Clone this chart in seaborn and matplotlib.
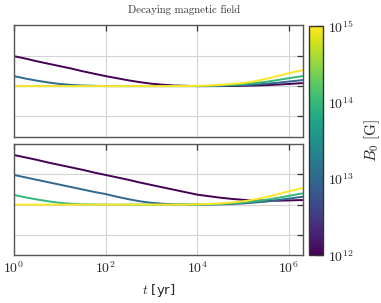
import numpy as np
import pandas as pd
import matplotlib
matplotlib.use("Agg")
import matplotlib.pyplot as plt
from matplotlib.colors import LogNorm
from matplotlib.ticker import FuncFormatter, NullLocator, LogLocator
import seaborn as sns

# log10(t / yr) at which the curves were read
log_t = [0, 0.25, 0.5, 0.75, 1, 1.25, 1.5, 1.75, 2, 2.25, 2.5, 2.75, 3, 3.25,
         3.5, 3.75, 4, 4.25, 4.5, 4.75, 5, 5.25, 5.5, 5.75, 6, 6.25, 6.3]

# initial field strengths (G), one curve per value
b0_values = [1e12, 1e13, 1e14, 1e15]

# upper panel
top_b12 = [0.99, 0.91, 0.82, 0.74, 0.66, 0.58, 0.49, 0.41, 0.33, 0.26, 0.19, 0.13, 0.08, 0.045,
           0.02, 0.01, 0.0, 0.0, 0.0, 0.005, 0.01, 0.02, 0.03, 0.05, 0.07, 0.095, 0.10]
top_b13 = [0.33, 0.25, 0.18, 0.12, 0.07, 0.04, 0.02, 0.01, 0.0, 0.0, 0.0, 0.0, 0.0, 0.0,
           0.0, 0.0, 0.0, 0.0, 0.01, 0.02, 0.03, 0.05, 0.08, 0.11, 0.15, 0.19, 0.20]
top_b14 = [0.0, 0.0, 0.0, 0.0, 0.0, 0.0, 0.0, 0.0, 0.0, 0.0, 0.0, 0.0, 0.0, 0.0,
           0.0, 0.0, 0.0, 0.005, 0.02, 0.04, 0.06, 0.10, 0.14, 0.20, 0.26, 0.32, 0.33]
top_b15 = [0.0, 0.0, 0.0, 0.0, 0.0, 0.0, 0.0, 0.0, 0.0, 0.0, 0.0, 0.0, 0.0, 0.0,
           0.0, 0.0, 0.01, 0.02, 0.04, 0.07, 0.10, 0.16, 0.24, 0.33, 0.43, 0.51, 0.53]

# lower panel
bot_b12 = [1.64, 1.56, 1.48, 1.39, 1.31, 1.23, 1.15, 1.06, 0.98, 0.90, 0.82, 0.73, 0.65, 0.57,
           0.49, 0.41, 0.33, 0.28, 0.23, 0.19, 0.16, 0.14, 0.13, 0.13, 0.14, 0.15, 0.15]
bot_b13 = [0.98, 0.90, 0.82, 0.74, 0.66, 0.58, 0.50, 0.42, 0.35, 0.26, 0.18, 0.11, 0.06, 0.03,
           0.01, 0.005, 0.0, 0.0, 0.01, 0.02, 0.04, 0.07, 0.10, 0.15, 0.20, 0.25, 0.26]
bot_b14 = [0.32, 0.24, 0.17, 0.11, 0.06, 0.03, 0.01, 0.005, 0.0, 0.0, 0.0, 0.0, 0.0, 0.0,
           0.0, 0.0, 0.0, 0.01, 0.02, 0.04, 0.07, 0.11, 0.16, 0.22, 0.29, 0.36, 0.37]
bot_b15 = [0.0, 0.0, 0.0, 0.0, 0.0, 0.0, 0.0, 0.0, 0.0, 0.0, 0.0, 0.0, 0.0, 0.0,
           0.0, 0.0, 0.01, 0.02, 0.04, 0.07, 0.11, 0.17, 0.25, 0.34, 0.44, 0.53, 0.55]

y_ticks = [-1, 0, 1]
x_ticks = [1e0, 1e2, 1e4, 1e6]
cbar_ticks = [1e12, 1e13, 1e14, 1e15]


def to_frame(curves):
    rows = []
    for b0, ys in zip(b0_values, curves):
        for lt, y in zip(log_t, ys):
            rows.append({"t": 10 ** lt, "y": y, "B0": b0})
    return pd.DataFrame(rows)


sns.set_style("white")
plt.rcParams["mathtext.fontset"] = "cm"
plt.rcParams["font.family"] = ["DejaVu Sans"]

norm = LogNorm(vmin=1e12, vmax=1e15)
pow_fmt = FuncFormatter(lambda v, pos: r"$10^{%d}$" % round(np.log10(v)))

fig = plt.figure(figsize=(3.81, 3.03), dpi=100)
ax_top = fig.add_axes([0.0367, 0.548, 0.7577, 0.3696])
ax_bot = fig.add_axes([0.0367, 0.1568, 0.7577, 0.3696])
cax = fig.add_axes([0.811, 0.1568, 0.0367, 0.756])

for ax, curves in [(ax_top, [top_b12, top_b13, top_b14, top_b15]),
                   (ax_bot, [bot_b12, bot_b13, bot_b14, bot_b15])]:
    sns.lineplot(data=to_frame(curves), x="t", y="y", hue="B0", hue_norm=norm,
                 palette="viridis", estimator=None, legend=False, lw=1.4, ax=ax)
    ax.set_xscale("log")
    ax.set_xlim(1, 2e6)
    ax.set_ylim(-1.68, 2.02)
    ax.set_xticks(x_ticks)
    ax.xaxis.set_minor_locator(NullLocator())
    ax.set_yticks(y_ticks)
    ax.set_yticklabels([])
    ax.set_ylabel("")
    ax.set_xlabel("")
    ax.grid(True, color="#d4d4d4", lw=0.8)
    ax.tick_params(direction="in", top=True, right=True, length=4, width=0.9,
                   color="#333333", labelsize=10)
    for s in ax.spines.values():
        s.set_color("#555555")
        s.set_linewidth(1.0)

ax_top.set_xticklabels([])
ax_bot.xaxis.set_major_formatter(pow_fmt)
ax_bot.set_xlabel(r"$t$ [yr]", fontsize=9.5, labelpad=4)

sm = matplotlib.cm.ScalarMappable(norm=norm, cmap="viridis")
cb = fig.colorbar(sm, cax=cax)
cb.set_ticks(cbar_ticks)
cb.ax.yaxis.set_major_formatter(pow_fmt)
cb.ax.yaxis.set_minor_locator(LogLocator(base=10, subs=np.arange(2, 10)))
cb.ax.tick_params(which="major", direction="in", length=5, width=0.9, labelsize=10)
cb.ax.tick_params(which="minor", direction="in", length=2.5, width=0.7)
cb.outline.set_edgecolor("#333333")
cb.outline.set_linewidth(1.0)
cb.set_label(r"$B_0\ [\rm G]$", fontsize=11, labelpad=6)

fig.suptitle("Decaying magnetic field", x=0.482, y=0.982, fontsize=7.8,
             family="cmr10", color="#333333")

fig.savefig("out.png", dpi=100)
